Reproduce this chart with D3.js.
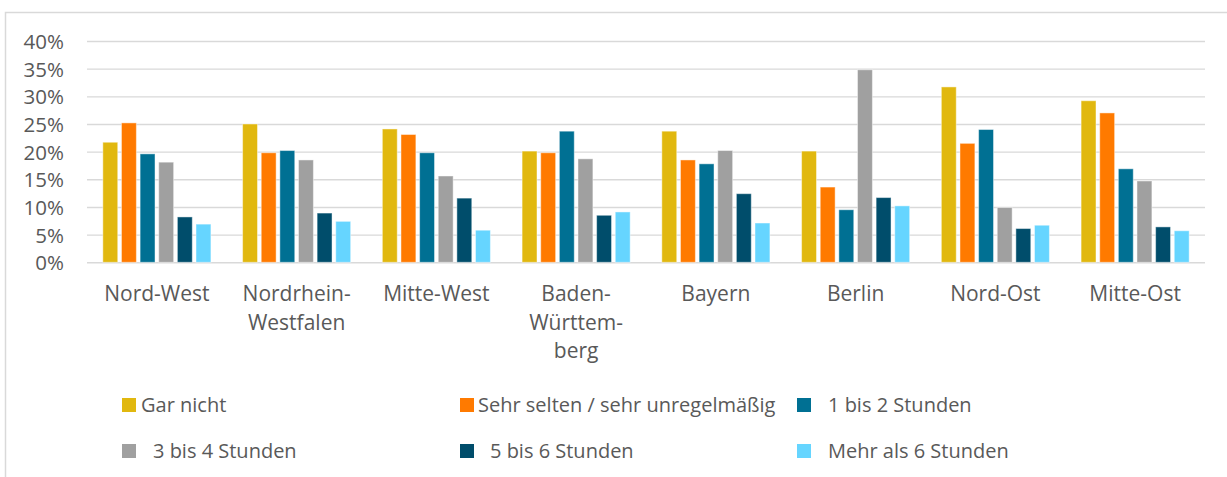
<!DOCTYPE html>
<html><head><meta charset="utf-8">
<script src="https://cdn.jsdelivr.net/npm/d3@7"></script>
<style>
html,body{margin:0;padding:0;background:#fff;}
svg{display:block;}
text{font-family:"Open Sans",sans-serif;fill:#595959;}
</style></head>
<body>
<svg id="chart" width="1227" height="477"></svg>
<script>
const categories = ["Nord-West", "Nordrhein-\nWestfalen", "Mitte-West", "Baden-\nWürttem-\nberg", "Bayern", "Berlin", "Nord-Ost", "Mitte-Ost"];
const seriesNames = ["Gar nicht", "Sehr selten / sehr unregelmäßig", "1 bis 2 Stunden", "3 bis 4 Stunden", "5 bis 6 Stunden", "Mehr als 6 Stunden"];
const seriesColors = ["#E1B80F", "#FF7A00", "#007093", "#A0A0A0", "#004D6B", "#66D5FF"];
const garNicht      = [21.7, 25.0, 24.1, 20.1, 23.7, 20.1, 31.7, 29.2];
const sehrSelten    = [25.2, 19.8, 23.1, 19.8, 18.5, 13.6, 21.5, 27.0];
const einBisZwei    = [19.6, 20.2, 19.8, 23.7, 17.8, 9.5, 24.0, 16.9];
const dreiBisVier   = [18.1, 18.5, 15.6, 18.7, 20.2, 34.8, 9.9, 14.7];
const fuenfBisSechs = [8.2, 8.9, 11.6, 8.5, 12.4, 11.7, 6.1, 6.4];
const mehrAlsSechs  = [6.9, 7.4, 5.8, 9.1, 7.1, 10.2, 6.7, 5.7];
const yTicks = [0, 5, 10, 15, 20, 25, 30, 35, 40];

const seriesValues = [garNicht, sehrSelten, einBisZwei, dreiBisVier, fuenfBisSechs, mehrAlsSechs];

(function () {
const svg = d3.select("#chart");

// outer frame
svg.append("path").attr("d", "M5.5,477 V12.5 H1227")
  .attr("fill", "none").attr("stroke", "#D9D9D9").attr("stroke-width", 1.5);

const pLeft = 87, pRight = 1205, pTop = 41, pBottom = 262.3;
const x0 = d3.scaleBand().domain(categories).range([pLeft, pRight]).padding(0);
const x1 = d3.scaleBand().domain(seriesNames).range([0, x0.bandwidth()]).paddingInner(0.2).paddingOuter(0.85);
const y = d3.scaleLinear().domain([0, 40]).range([pBottom, pTop]);

// gridlines
const grid = svg.append("g").attr("transform", `translate(${pLeft},0)`)
  .call(d3.axisLeft(y).tickValues(yTicks).tickSize(-(pRight - pLeft)).tickFormat(""));
grid.select(".domain").remove();
grid.selectAll(".tick line").attr("stroke", "#D9D9D9").attr("stroke-width", 1.4);

// y labels
const yAx = svg.append("g").attr("transform", "translate(64,0)")
  .call(d3.axisLeft(y).tickValues(yTicks).tickSize(0).tickPadding(0).tickFormat(d => d + "%"));
yAx.select(".domain").remove();
yAx.selectAll("text").attr("font-size", 20.5).attr("font-family", "Open Sans, sans-serif")
  .attr("fill", "#595959").attr("dy", "0.36em");

// bars
const groups = svg.append("g").selectAll("g").data(categories).join("g")
  .attr("transform", d => `translate(${x0(d)},0)`);
groups.selectAll("rect")
  .data((c, ci) => seriesNames.map((s, si) => ({s, si, v: seriesValues[si][ci]})))
  .join("rect")
  .attr("x", d => x1(d.s))
  .attr("width", x1.bandwidth())
  .attr("y", d => y(d.v))
  .attr("height", d => y(0) - y(d.v))
  .attr("fill", d => seriesColors[d.si])
  .attr("stroke", "#ffffff").attr("stroke-opacity", 0.45).attr("stroke-width", 1);

// x labels
const xl = svg.append("g").selectAll("text").data(categories).join("text")
  .attr("x", d => x0(d) + x0.bandwidth() / 2)
  .attr("y", 301)
  .attr("text-anchor", "middle")
  .attr("font-size", 21);
xl.selectAll("tspan").data(d => d.split("\n")).join("tspan")
  .attr("x", function() { return this.parentNode.getAttribute("x"); })
  .attr("dy", (d, i) => i === 0 ? 0 : 28.5)
  .text(d => d);

// legend
const legCols = [122, 460, 797];
const legRows = [405, 451];
const legTextOffset = [19, 18, 31, 31, 30, 31];
const leg = svg.append("g").selectAll("g").data(seriesNames).join("g")
  .attr("transform", (d, i) => `translate(${legCols[i % 3]},${legRows[Math.floor(i / 3)]})`);
leg.append("rect").attr("x", 0).attr("y", -7).attr("width", 14).attr("height", 14)
  .attr("fill", (d, i) => seriesColors[i]);
leg.append("text").attr("x", (d, i) => legTextOffset[i]).attr("y", 0).attr("dy", "0.36em")
  .attr("font-size", 20).text(d => d);
})();
</script>
</body></html>
